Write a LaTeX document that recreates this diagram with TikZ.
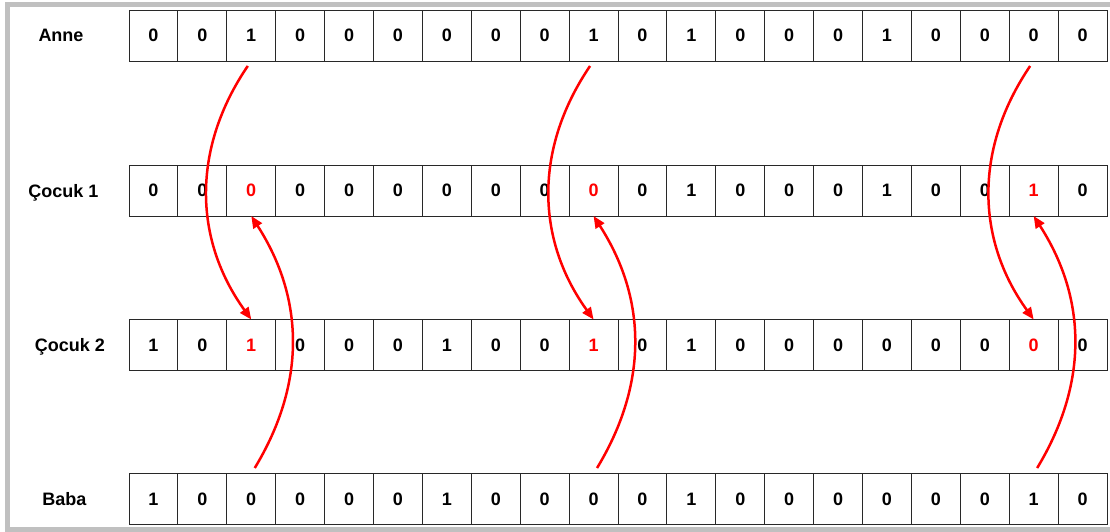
\documentclass[tikz,border=0pt]{standalone}
\usepackage{fontspec}
\setmainfont{Liberation Sans}
\usetikzlibrary{arrows.meta}
\definecolor{framegray}{RGB}{192,192,192}
\definecolor{cellline}{RGB}{40,40,40}
\tikzset{
  cellbox/.style={draw=cellline, line width=0.9pt, minimum width=48.9pt, minimum height=51pt, inner sep=0pt, outer sep=0pt, font=\fontsize{18}{20}\selectfont\bfseries},
  rowlabel/.style={font=\fontsize{18}{20}\selectfont\bfseries, inner sep=0pt, anchor=base},
  swaparrow/.style={draw=red, line width=2.5pt, -{Triangle[length=12pt,width=10pt]}},
  hl/.style={text=red}
}
\begin{document}
\begin{tikzpicture}[x=1pt,y=1pt]
\clip (0,0) rectangle (1110,531);
\fill[white] (0,0) rectangle (1110,531);
\draw[framegray, line width=5.5pt] (7.5,1.5) rectangle (1120,526.3);
% row labels
\node[rowlabel] (la) at (61,489) {Anne};
\node[rowlabel] (lc) at (63.5,334) {Çocuk 1};
\node[rowlabel] (ld) at (70,179.5) {Çocuk 2};
\node[rowlabel] (lb) at (64.5,25.5) {Baba};
% rows
\foreach \v [count=\i] in {0,0,1,0,0,0,0,0,0,1,0,1,0,0,0,1,0,0,0,0}
  \node[cellbox] (a\i) at ({129+(\i-0.5)*48.9},495.5) {\v};
\foreach \v [count=\i] in {0,0,0,0,0,0,0,0,0,0,0,1,0,0,0,1,0,0,1,0}
  \node[cellbox] (c\i) at ({129+(\i-0.5)*48.9},340.5) {\ifnum\i=3 \textcolor{red}{\v}\else\ifnum\i=10 \textcolor{red}{\v}\else\ifnum\i=19 \textcolor{red}{\v}\else\v\fi\fi\fi};
\foreach \v [count=\i] in {1,0,1,0,0,0,1,0,0,1,0,1,0,0,0,0,0,0,0,0}
  \node[cellbox] (d\i) at ({129+(\i-0.5)*48.9},186) {\ifnum\i=3 \textcolor{red}{\v}\else\ifnum\i=10 \textcolor{red}{\v}\else\ifnum\i=19 \textcolor{red}{\v}\else\v\fi\fi\fi};
\foreach \v [count=\i] in {1,0,0,0,0,0,1,0,0,0,0,1,0,0,0,0,0,0,1,0}
  \node[cellbox] (b\i) at ({129+(\i-0.5)*48.9},32) {\v};
% arrows
\foreach \i in {3,10,19}{
  \draw[swaparrow] ([xshift=-3.5pt,yshift=-5pt]a\i.south) to[bend right=35] (d\i.north);
  \draw[swaparrow] ([xshift=3.5pt,yshift=5.5pt]b\i.north) to[bend right=32] (c\i.south);
}
\end{tikzpicture}
\end{document}
